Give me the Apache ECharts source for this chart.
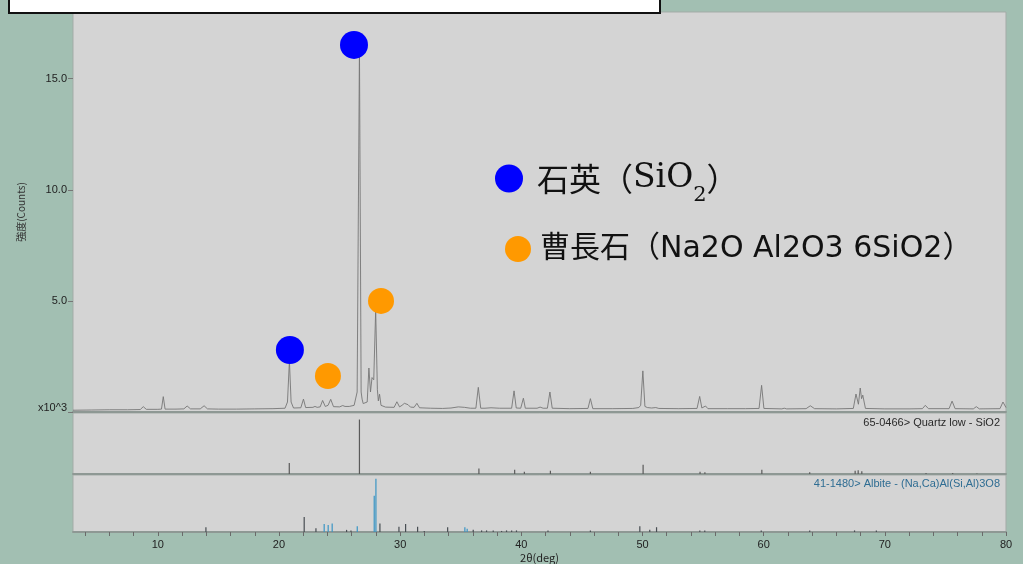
<!DOCTYPE html>
<html>
<head>
<meta charset="utf-8">
<script src="https://cdn.jsdelivr.net/npm/echarts@6/dist/echarts.min.js"></script>
<style>
  html, body { margin: 0; padding: 0; background: #a2bfb2; }
  #chart { width: 1023px; height: 564px; }
</style>
</head>
<body>
<div id="chart"></div>
<script>
// Measured XRD scan: [2θ (deg), intensity (×10^3 counts)]
const scanProfile = [
  [3.0,0.08],[4.5,0.09],[6.0,0.10],[7.5,0.10],[8.55,0.11],[8.8,0.24],[9.05,0.12],
  [10.0,0.12],[10.3,0.13],[10.45,0.69],[10.6,0.13],[11.5,0.13],
  [12.15,0.14],[12.42,0.27],[12.7,0.14],[13.5,0.14],[13.82,0.28],[14.1,0.14],
  [15.0,0.13],[16.5,0.13],[18.0,0.14],[19.5,0.15],
  [20.5,0.17],[20.7,0.45],[20.86,2.3],[21.0,0.45],[21.2,0.18],
  [21.8,0.19],[22.02,0.58],[22.2,0.20],[22.8,0.21],[22.97,0.25],[23.15,0.21],
  [23.4,0.23],[23.6,0.52],[23.82,0.25],[24.05,0.30],[24.27,0.57],[24.5,0.24],
  [25.0,0.23],[25.26,0.29],[25.45,0.25],[25.6,0.32],[25.8,0.25],
  [26.2,0.30],[26.45,0.90],[26.64,16.4],[26.78,0.90],[26.86,0.58],[26.95,0.38],[27.1,0.32],
  [27.28,0.45],[27.42,1.98],[27.55,0.90],[27.68,1.55],[27.82,1.45],[27.98,4.6],[28.12,1.0],
  [28.2,0.50],[28.3,0.80],[28.42,0.30],[28.8,0.22],
  [29.5,0.21],[29.73,0.46],[29.95,0.23],[30.15,0.30],[30.35,0.39],[30.5,0.30],[30.65,0.33],[30.85,0.22],
  [31.15,0.21],[31.38,0.39],[31.6,0.19],[32.5,0.17],[33.5,0.16],
  [34.2,0.18],[34.8,0.23],[35.3,0.21],[35.8,0.17],
  [36.25,0.17],[36.45,1.11],[36.65,0.17],[37.0,0.17],[37.5,0.19],[38.2,0.17],
  [39.2,0.17],[39.4,0.95],[39.58,0.18],[39.95,0.17],[40.17,0.62],[40.33,0.17],
  [41.3,0.17],[41.55,0.22],[41.8,0.17],[42.15,0.17],[42.36,0.90],[42.55,0.17],
  [44.0,0.15],[45.5,0.16],[45.7,0.60],[45.9,0.15],[47.5,0.15],
  [49.2,0.16],[49.7,0.20],[49.85,0.30],[50.03,1.85],[50.2,0.25],[50.4,0.20],[50.55,0.27],[50.75,0.18],
  [51.1,0.20],[51.35,0.16],[53.0,0.15],
  [54.5,0.16],[54.72,0.70],[54.9,0.18],[55.2,0.27],[55.4,0.15],
  [57.0,0.15],[58.5,0.15],[59.62,0.16],[59.83,1.2],[60.02,0.16],
  [61.5,0.14],[61.7,0.17],[61.9,0.14],[63.5,0.15],[63.85,0.28],[64.2,0.15],
  [66.0,0.14],[67.4,0.16],[67.62,0.81],[67.82,0.35],[67.97,1.08],[68.08,0.60],[68.18,0.76],[68.4,0.16],
  [70.0,0.14],[72.0,0.14],[73.1,0.15],[73.34,0.30],[73.6,0.15],
  [75.3,0.15],[75.55,0.49],[75.8,0.15],[77.3,0.14],[77.55,0.24],[77.8,0.14],
  [79.5,0.15],[79.75,0.45],[80.0,0.20]
];

// Phase markers placed over the identified peaks
const quartzMarks = [[26.19, 16.52], [20.9, 2.79]];
const albiteMarks = [[24.04, 1.62], [28.42, 5.0]];

// Reference card 65-0466 Quartz low: positions and relative intensities (%)
const quartzAngles  = [20.85, 26.64, 36.5, 39.45, 40.25, 42.4, 45.7, 50.05, 54.75, 55.15, 59.85, 63.8, 67.55, 67.8, 68.1, 73.4, 75.6, 77.6];
const quartzHeights = [20, 100, 10, 8, 4, 6, 4, 17, 4, 3, 8, 3, 6, 7, 5, 2, 2, 1];

// Reference card 41-1480 Albite: lines of the blue and the dark group
const albiteBlueAngles  = [23.73, 24.06, 24.39, 26.46, 27.86, 28.0, 35.34, 35.53];
const albiteBlueHeights = [15, 13, 16, 11, 68, 100, 9, 6];
const albiteDarkAngles  = [13.97, 22.08, 23.05, 25.58, 25.94, 28.33, 29.9, 30.45, 31.44, 31.99, 33.92, 36.03,
                           36.72, 37.13, 37.68, 38.37, 38.78, 39.2, 39.6, 42.2, 45.7, 49.78, 50.6, 51.16,
                           54.73, 55.14, 59.8, 63.8, 67.5, 69.3];
const albiteDarkHeights = [9, 28, 7, 4, 3, 16, 10, 15, 10, 2, 9, 4,
                           3, 3, 3, 2, 3, 3, 3, 3, 3, 11, 4, 9,
                           3, 3, 3, 3, 3, 3];

// Axis ticks and labels
const thetaLabels = [10, 20, 30, 40, 50, 60, 70, 80];
const thetaTicks  = [4, 6, 8, 10, 12, 14, 16, 18, 20, 22, 24, 26, 28, 30, 32, 34, 36, 38, 40,
                     42, 44, 46, 48, 50, 52, 54, 56, 58, 60, 62, 64, 66, 68, 70, 72, 74, 76, 78, 80];
const countLabels = [0, 5, 10, 15];

const zip = (a, b) => a.map((v, i) => [v, b[i]]);

const SANS = "'Liberation Sans', Arial, sans-serif";
const CJK = "'Noto Sans CJK JP', 'Liberation Sans', sans-serif";
const WIDE = "'DejaVu Sans', 'Noto Sans CJK JP', sans-serif";
const SERIF_CJK = "'Noto Sans CJK JP', serif";
const SERIF_LATIN = "'DejaVu Serif', 'Liberation Serif', serif";
const PANEL = '#d4d4d4';
const EDGE = '#8e9894';

const chart = echarts.init(document.getElementById('chart'), null, { renderer: 'canvas' });

const thetaAxis = (gi, withLabels) => ({
  type: 'value', gridIndex: gi, min: 3, max: 80,
  splitLine: { show: false },
  axisLine: { show: true, onZero: false, lineStyle: { color: EDGE, width: 2 } },
  axisTick: withLabels
    ? { show: true, customValues: thetaTicks, length: 4, lineStyle: { color: '#6a6a6a' } }
    : { show: false },
  axisLabel: withLabels
    ? { show: true, customValues: thetaLabels, color: '#222', fontSize: 11, fontFamily: SANS, margin: 7 }
    : { show: false },
  name: withLabels ? '2θ(deg)' : '',
  nameLocation: 'middle', nameGap: 20,
  nameTextStyle: { color: '#222', fontSize: 11, fontFamily: CJK }
});

chart.setOption({
  animation: false,
  backgroundColor: '#a2bfb2',
  grid: [
    { left: 73, top: 12, width: 933, height: 400, show: true, backgroundColor: PANEL, borderColor: '#a3aba7', borderWidth: 1 },
    { left: 73, top: 413, width: 933, height: 61, show: true, backgroundColor: PANEL, borderColor: '#a3aba7', borderWidth: 1 },
    { left: 73, top: 475, width: 933, height: 58, show: true, backgroundColor: PANEL, borderColor: '#a3aba7', borderWidth: 1 }
  ],
  xAxis: [thetaAxis(0, false), thetaAxis(1, false), thetaAxis(2, true)],
  yAxis: [
    {
      type: 'value', gridIndex: 0, min: 0, max: 18, interval: 5,
      splitLine: { show: false },
      axisLine: { show: false },
      axisTick: { show: true, customValues: countLabels, length: 5, lineStyle: { color: '#777' } },
      axisLabel: {
        customValues: countLabels, color: '#222', fontSize: 11, fontFamily: SANS, margin: 6,
        formatter: v => (v === 0 ? '{z|x10^3}' : v.toFixed(1)),
        rich: { z: { fontSize: 11, fontFamily: SANS, color: '#222', padding: [0, 0, 8, 0] } }
      },
      name: '強度(Counts)', nameLocation: 'middle', nameGap: 47,
      nameTextStyle: { color: '#333', fontSize: 10, fontFamily: CJK }
    },
    { type: 'value', gridIndex: 1, min: 0, max: 112, show: false },
    { type: 'value', gridIndex: 2, min: 0, max: 107, show: false }
  ],
  title: [
    {
      text: '65-0466> Quartz low - SiO2', right: 23, top: 417, padding: 0,
      textStyle: { fontSize: 11, fontWeight: 'normal', color: '#2a2a2a', fontFamily: SANS }
    },
    {
      text: '41-1480> Albite - (Na,Ca)Al(Si,Al)3O8', right: 23, top: 478, padding: 0,
      textStyle: { fontSize: 11, fontWeight: 'normal', color: '#2f6d93', fontFamily: SANS }
    }
  ],
  legend: [
    {
      data: ['石英'], left: 495, top: 162, padding: 0, selectedMode: false,
      icon: 'circle', itemWidth: 28, itemHeight: 28,
      formatter: () => '{b|石英（}{a|SiO}{s|2}{c|）}',
      textStyle: {
        rich: {
          b: { fontSize: 32, fontFamily: SERIF_CJK, color: '#111', lineHeight: 56, padding: [0, 0, 0, 9] },
          a: { fontSize: 33, fontFamily: SERIF_LATIN, color: '#111', lineHeight: 56 },
          s: { fontSize: 21, fontFamily: SERIF_LATIN, color: '#111', lineHeight: 24, verticalAlign: 'bottom' },
          c: { fontSize: 32, fontFamily: SERIF_CJK, color: '#111', lineHeight: 56 }
        }
      }
    },
    {
      data: ['曹長石'], left: 505, top: 234, padding: 0, selectedMode: false,
      icon: 'circle', itemWidth: 26, itemHeight: 26,
      formatter: () => '{a|曹長石（Na2O Al2O3 6SiO2）}',
      textStyle: {
        rich: {
          a: { fontSize: 30, fontFamily: WIDE, color: '#111', lineHeight: 30, padding: [0, 0, 0, 4] }
        }
      }
    }
  ],
  graphic: [
    {
      type: 'rect', left: 8, top: -2, z: 10,
      shape: { width: 651, height: 14 },
      style: { fill: '#ffffff', stroke: '#111111', lineWidth: 2 }
    }
  ],
  series: [
    {
      type: 'line', name: 'scan', xAxisIndex: 0, yAxisIndex: 0,
      data: scanProfile, showSymbol: false, symbol: 'none', sampling: null,
      lineStyle: { color: '#767676', width: 0.9 }, z: 2, silent: true
    },
    {
      type: 'scatter', name: '石英', xAxisIndex: 0, yAxisIndex: 0,
      data: quartzMarks, symbol: 'circle', symbolSize: 28,
      itemStyle: { color: '#0000ff', opacity: 1 }, z: 5, silent: true
    },
    {
      type: 'scatter', name: '曹長石', xAxisIndex: 0, yAxisIndex: 0,
      data: albiteMarks, symbol: 'circle', symbolSize: 26,
      itemStyle: { color: '#ff9900', opacity: 1 }, z: 5, silent: true
    },
    {
      type: 'bar', name: 'quartz card', xAxisIndex: 1, yAxisIndex: 1,
      data: zip(quartzAngles, quartzHeights), barWidth: 1.2, barGap: '-100%',
      itemStyle: { color: '#5a5a5a' }, silent: true
    },
    {
      type: 'bar', name: 'albite dark', xAxisIndex: 2, yAxisIndex: 2,
      data: zip(albiteDarkAngles, albiteDarkHeights), barWidth: 1.2, barGap: '-100%',
      itemStyle: { color: '#474d52' }, silent: true
    },
    {
      type: 'bar', name: 'albite blue', xAxisIndex: 2, yAxisIndex: 2,
      data: zip(albiteBlueAngles, albiteBlueHeights), barWidth: 1.2, barGap: '-100%',
      itemStyle: { color: '#3a95c4' }, silent: true
    }
  ]
});
</script>
</body>
</html>
